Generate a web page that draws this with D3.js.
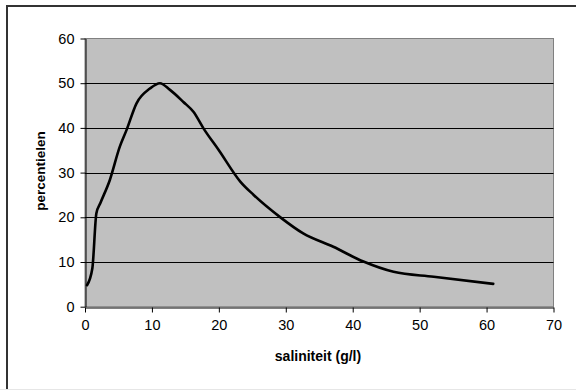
<!DOCTYPE html>
<html><head><meta charset="utf-8">
<script src="https://cdn.jsdelivr.net/npm/d3@7"></script>
<style>body{margin:0;background:#fff}svg{display:block}</style>
</head><body>
<svg id="c" width="576" height="390"></svg>
<script>
const salinity = [0.3, 1.1, 1.7, 2.3, 3.7, 5.2, 6.2, 7.7, 9.7, 11.2, 12.7, 14.7, 16.2, 17.7, 20, 23.2, 25.2, 29.1, 32.6, 37.1, 41.6, 46.1, 52.1, 61];
const percentile = [4.8, 8.6, 20.9, 23.2, 28.3, 35.8, 39.5, 45.5, 48.8, 50, 48.5, 45.8, 43.6, 39.9, 35, 28, 25, 20.1, 16.4, 13.4, 10.1, 7.8, 6.7, 5.1];
const xTicks = [0, 10, 20, 30, 40, 50, 60, 70];
const yTicks = [0, 10, 20, 30, 40, 50, 60];
const xTitle = "saliniteit (g/l)";
const yTitle = "percentielen";

const svg = d3.select("#c");
const font = "'Liberation Sans', Arial, sans-serif";
svg.append("rect").attr("x",7).attr("y",6).attr("width",640).attr("height",420)
  .attr("fill","#fff").attr("stroke","#333").attr("stroke-width",2);
svg.append("line").attr("x1",0).attr("x2",576).attr("y1",389.5).attr("y2",389.5).attr("stroke","#e6e6e6");

const L=85,R=553.5,T=38.5,B=306.7;
const x=d3.scaleLinear().domain([0,70]).range([L,R]);
const y=d3.scaleLinear().domain([0,60]).range([B,T]);

svg.append("rect").attr("x",L).attr("y",T).attr("width",R-L).attr("height",B-T)
  .attr("fill","#c0c0c0").attr("stroke","#808080").attr("stroke-width",1);
svg.append("g").selectAll("line").data(yTicks.filter(d=>d>0&&d<60)).join("line")
  .attr("x1",L).attr("x2",R).attr("y1",d=>Math.round(y(d))+0.5).attr("y2",d=>Math.round(y(d))+0.5)
  .attr("stroke","#000").attr("stroke-width",1);

const xa=svg.append("g").attr("transform",`translate(0,${Math.round(B)+0.5})`)
  .call(d3.axisBottom(x).tickValues(xTicks).tickSize(5).tickSizeOuter(0).tickPadding(5));
const ya=svg.append("g").attr("transform",`translate(${L+0.5},0)`)
  .call(d3.axisLeft(y).tickValues(yTicks).tickSize(5).tickSizeOuter(0).tickPadding(6));
[xa,ya].forEach(g=>{g.selectAll("text").attr("font-family",font).attr("font-size",14.5).attr("fill","#000");
  g.selectAll("path,line").attr("stroke","#000");});
xa.selectAll("text").attr("dy","0.85em");

const line=d3.line().x((d,i)=>x(salinity[i])).y(d=>y(d)).curve(d3.curveMonotoneX);
svg.append("path").attr("d",line(percentile)).attr("fill","none")
  .attr("stroke","#000").attr("stroke-width",2.6).attr("stroke-linejoin","round").attr("stroke-linecap","round");

svg.append("text").attr("x",318).attr("y",361).attr("text-anchor","middle")
  .attr("font-family",font).attr("font-weight","bold").attr("font-size",14).text(xTitle);
svg.append("text").attr("transform","translate(45,171) rotate(-90)").attr("text-anchor","middle")
  .attr("font-family",font).attr("font-weight","bold").attr("font-size",13.5).text(yTitle);
</script>
</body></html>
